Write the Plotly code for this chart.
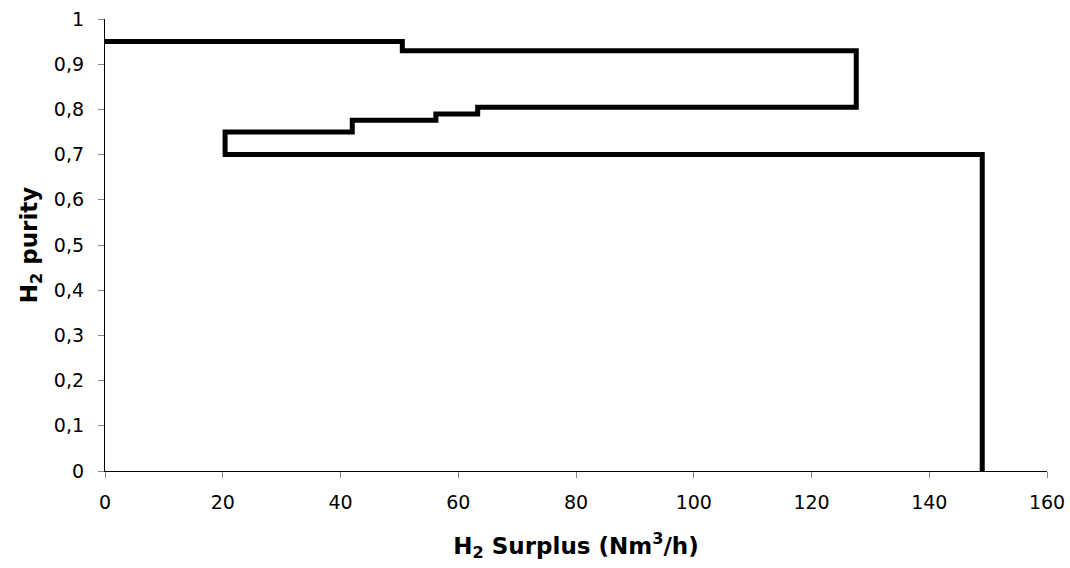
import plotly.graph_objects as go

# Step-curve vertices (hv steps): H2 surplus (Nm3/h) vs H2 purity
surplus = [0, 50.5, 127.6, 63.3, 56.2, 42.0, 20.4, 149.0]
purity = [0.95, 0.93, 0.805, 0.79, 0.776, 0.75, 0.70, 0.0]

fig = go.Figure()
fig.add_trace(go.Scatter(
    x=surplus, y=purity, mode="lines",
    line=dict(color="black", width=5, shape="hv"),
    showlegend=False, hoverinfo="skip",
))

font = "DejaVu Sans, Liberation Sans, Arial, sans-serif"
fig.update_layout(
    width=1070, height=568,
    margin=dict(l=105, r=23, t=19, b=97),
    paper_bgcolor="white", plot_bgcolor="white",
    separators=",.",
    font=dict(family=font, size=19, color="black"),
    xaxis=dict(
        range=[0, 160], dtick=20, tick0=0, automargin=False,
        showgrid=False, zeroline=False,
        showline=True, linecolor="black", linewidth=1.3,
        ticks="outside", ticklen=6, tickcolor="#888888", tickwidth=1,
        tickfont=dict(size=19), ticklabelstandoff=8,
        title=dict(text="<b>H<sub>2</sub> Surplus (Nm<sup>3</sup>/h)</b>",
                   font=dict(size=23), standoff=25),
    ),
    yaxis=dict(
        range=[0, 1], dtick=0.1, tick0=0, automargin=False,
        showgrid=False, zeroline=False,
        showline=True, linecolor="black", linewidth=1.3,
        ticks="outside", ticklen=6, tickcolor="#888888", tickwidth=1,
        tickfont=dict(size=19), ticklabelstandoff=10,
        title=dict(text="<b>H<sub>2</sub> purity</b>",
                   font=dict(size=23), standoff=9),
    ),
)

fig.write_html("out.html")
